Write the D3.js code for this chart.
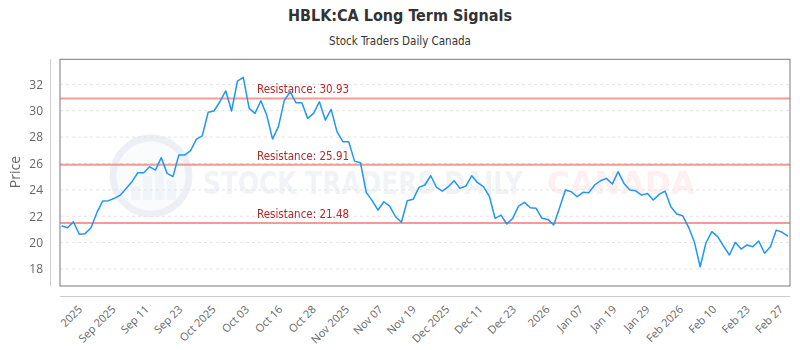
<!DOCTYPE html>
<html>
<head>
<meta charset="utf-8">
<script src="https://cdn.jsdelivr.net/npm/d3@7"></script>
<style>
  body { margin: 0; background: #fff; }
  #chart svg { display: block; }
</style>
</head>
<body>
<div id="chart"></div>
<script>
// Daily closes, one per trading day
const prices = [
  21.28, 21.13, 21.58, 20.63, 20.68, 21.13, 22.27, 23.15, 23.18, 23.36,
  23.6, 24.1, 24.62, 25.3, 25.3, 25.75, 25.5, 26.44, 25.25, 25.0,
  26.64, 26.64, 26.97, 27.85, 28.1, 29.88, 29.98, 30.68, 31.51, 29.98,
  32.25, 32.53, 30.18, 29.8, 30.76, 29.67, 27.85, 28.79, 30.76, 31.44,
  30.6, 30.6, 29.42, 29.8, 30.68, 29.29, 30.1, 28.41, 27.65, 27.65,
  26.18, 26.06, 23.81, 23.18, 22.47, 23.1, 22.77, 21.96, 21.54, 23.18,
  23.28, 24.19, 24.37, 25.07, 24.19, 23.91, 24.24, 24.69, 24.11, 24.29,
  25.07, 24.54, 24.24, 23.53, 21.84, 22.09, 21.41, 21.84, 22.77, 23.05,
  22.64, 22.6, 21.84, 21.76, 21.33, 22.64, 23.99, 23.86, 23.48, 23.81,
  23.79, 24.37, 24.69, 24.87, 24.44, 25.37, 24.49, 23.99, 23.93, 23.6,
  23.73, 23.23, 23.66, 23.91, 22.72, 22.17, 22.04, 21.2, 20.07, 18.17,
  19.99, 20.83, 20.45, 19.74, 19.06, 20.02, 19.51, 19.82, 19.69, 20.12,
  19.19, 19.69, 20.95, 20.78, 20.5
];

const tickLabels = [
  "2025", "Sep 2025", "Sep 11", "Sep 23", "Oct 2025", "Oct 03", "Oct 16",
  "Oct 28", "Nov 2025", "Nov 07", "Nov 19", "Dec 2025", "Dec 11", "Dec 23",
  "2026", "Jan 07", "Jan 19", "Jan 29", "Feb 2026", "Feb 10", "Feb 23", "Feb 27"
];

const resistance = [30.93, 25.91, 21.48];
const yTicks = [18, 20, 22, 24, 26, 28, 30, 32];

const title = "HBLK:CA Long Term Signals";
const subtitle = "Stock Traders Daily Canada";

// Layout
const width = 800, height = 350;
const plot = { left: 60, right: 790, top: 59.3, bottom: 286 };
const narrow = "'Liberation Sans Narrow', 'DejaVu Sans Condensed', sans-serif";

const svg = d3.select("#chart").append("svg")
  .attr("width", width)
  .attr("height", height);

const xScale = d3.scaleLinear()
  .domain([0, prices.length - 1])
  .range([61.7, 788]);

const yScale = d3.scaleLinear()
  .domain([16.71, 33.9])
  .range([plot.bottom, plot.top]);

const tickScale = d3.scalePoint()
  .domain(tickLabels)
  .range([79, 780]);

// Titles
svg.append("text")
  .attr("x", 400).attr("y", 21)
  .attr("text-anchor", "middle")
  .style("font-family", narrow)
  .style("font-weight", "bold")
  .style("font-size", "16px")
  .style("fill", "#333")
  .text(title);

svg.append("text")
  .attr("x", 400).attr("y", 45)
  .attr("text-anchor", "middle")
  .style("font-family", narrow)
  .style("font-size", "11.5px")
  .style("fill", "#333")
  .text(subtitle);

// Watermark
const wm = svg.append("g").attr("opacity", 0.45);
wm.append("circle")
  .attr("cx", 151).attr("cy", 176).attr("r", 38)
  .attr("fill", "#f2f5fa")
  .attr("stroke", "#d5deeb")
  .attr("stroke-width", 7);
[[-20, 14], [-8, 24], [4, 30], [16, 20]].forEach(([dx, h]) => {
  wm.append("rect")
    .attr("x", 151 + dx).attr("y", 200 - h)
    .attr("width", 9).attr("height", h)
    .attr("fill", "#dfe6f0");
});
// squeeze each word group to the width it takes in the reference
[["STOCK TRADERS DAILY", 203, 320, "#dfe5ee"], ["CANADA", 547, 148, "#fcdede"]].forEach(([txt, x, w, c]) => {
  const t = wm.append("text")
    .style("font-family", narrow)
    .style("font-weight", "bold")
    .style("font-size", "32px")
    .style("fill", c)
    .text(txt);
  const k = w / t.node().getComputedTextLength();
  t.attr("transform", `translate(${x},194) scale(${k},1)`);
});

// Grid lines
svg.append("g")
  .selectAll("line")
  .data(yTicks)
  .join("line")
  .attr("x1", plot.left).attr("x2", plot.right)
  .attr("y1", d => yScale(d)).attr("y2", d => yScale(d))
  .attr("stroke", "#e3e3e3")
  .attr("stroke-dasharray", "3,3");

// Resistance lines
svg.append("g")
  .selectAll("line")
  .data(resistance)
  .join("line")
  .attr("x1", plot.left).attr("x2", plot.right)
  .attr("y1", d => yScale(d)).attr("y2", d => yScale(d))
  .attr("stroke", "#f08a85")
  .attr("stroke-opacity", 0.85)
  .attr("stroke-width", 2);

svg.append("g")
  .selectAll("text")
  .data(resistance)
  .join("text")
  .attr("x", xScale(33) + 2)
  .attr("y", d => yScale(d) - 5)
  .style("font-family", narrow)
  .style("font-size", "11.5px")
  .style("fill", "#b22a2a")
  .text(d => `Resistance: ${d}`);

// Price line
const line = d3.line()
  .x((d, i) => xScale(i))
  .y(d => yScale(d));

svg.append("path")
  .datum(prices)
  .attr("d", line)
  .attr("fill", "none")
  .attr("stroke", "#2196f3")
  .attr("stroke-width", 1.5)
  .attr("stroke-linejoin", "round");

// Plot frame
svg.append("rect")
  .attr("x", plot.left).attr("y", plot.top)
  .attr("width", plot.right - plot.left)
  .attr("height", plot.bottom - plot.top)
  .attr("fill", "none")
  .attr("stroke", "#7a7a7a");

// Offset axis lines
svg.append("line")
  .attr("x1", 50.5).attr("x2", 50.5)
  .attr("y1", plot.top).attr("y2", plot.bottom)
  .attr("stroke", "#ccc");
svg.append("line")
  .attr("x1", plot.left).attr("x2", plot.right)
  .attr("y1", 296.5).attr("y2", 296.5)
  .attr("stroke", "#ccc");

// Y axis
const yAxis = d3.axisLeft(yScale).tickValues(yTicks).tickSize(0).tickPadding(0);
svg.append("g")
  .attr("transform", "translate(43,0)")
  .call(yAxis)
  .call(g => g.select(".domain").remove())
  .selectAll("text")
  .style("font-family", "'Open Sans', sans-serif")
  .style("font-size", "12px")
  .style("fill", "#666");

svg.append("text")
  .attr("transform", "translate(20,172) rotate(-90)")
  .attr("text-anchor", "middle")
  .style("font-family", "'Open Sans', sans-serif")
  .style("font-size", "14px")
  .style("fill", "#666")
  .text("Price");

// X labels
svg.append("g")
  .selectAll("text")
  .data(tickLabels)
  .join("text")
  .attr("transform", d => `translate(${tickScale(d) + 4},310) rotate(-45)`)
  .attr("text-anchor", "end")
  .style("font-family", "'Open Sans', sans-serif")
  .style("font-size", "11px")
  .style("fill", "#666")
  .text(d => d);
</script>
</body>
</html>
